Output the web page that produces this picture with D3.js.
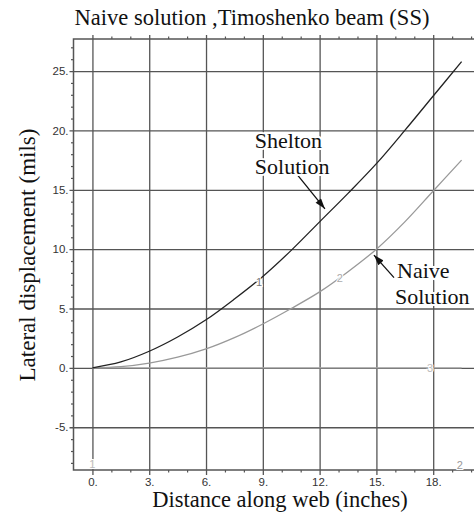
<!DOCTYPE html>
<html>
<head>
<meta charset="utf-8">
<script src="https://cdn.jsdelivr.net/npm/d3@7"></script>
<style>
  body { margin: 0; background: #fff; }
  text { font-family: "Liberation Serif", "Times New Roman", serif; }
  .tick text { font-family: "Liberation Sans", Arial, sans-serif; font-size: 11.5px; fill: #333; }
</style>
</head>
<body>
<svg id="chart" width="474" height="516"></svg>
<script>
// values
var distance = [0, 1.5, 3, 4.5, 6, 7.5, 9, 10.5, 12, 13.5, 15, 16.5, 18, 19.5];
var shelton  = [0, 0.5, 1.4, 2.6, 4.05, 5.8, 7.7, 9.9, 12.3, 14.7, 17.2, 20.0, 22.9, 25.8];
var naive    = [0, 0.1, 0.4, 0.9, 1.6, 2.55, 3.7, 5.0, 6.4, 8.1, 10.0, 12.3, 14.9, 17.5];
var zeroCurve = [0, 19.5];
var xTicks = [0, 3, 6, 9, 12, 15, 18];
var yTicks = [-5, 0, 5, 10, 15, 20, 25];

var svg = d3.select("#chart");
var pLeft = 73.5, pRight = 490, pTop = 39, pBottom = 470;

var x = d3.scaleLinear().domain([-1, 21]).range([pLeft, pRight]);
var y = d3.scaleLinear().domain([-8.6, 27.7]).range([pBottom, pTop]);

var gridColor = "#555";

// title
svg.append("text")
    .attr("x", 252).attr("y", 25)
    .attr("text-anchor", "middle")
    .style("font-size", "22.5px")
    .style("fill", "#111")
    .text("Naive solution ,Timoshenko beam (SS)");

// horizontal gridlines + y labels
var gy = svg.append("g")
    .attr("transform", "translate(" + (pLeft - 4) + ",0)")
    .call(d3.axisLeft(y).tickValues(yTicks).tickSize(-(pRight - pLeft + 4)).tickPadding(1)
        .tickFormat(function (d) { return d + "."; }));
gy.select(".domain").remove();
gy.selectAll(".tick line").attr("stroke", gridColor).attr("stroke-width", 1.3);

// vertical gridlines + x labels
var gx = svg.append("g")
    .attr("transform", "translate(0," + (pBottom + 5) + ")")
    .call(d3.axisBottom(x).tickValues(xTicks).tickSize(-(pBottom - pTop + 9)).tickPadding(3)
        .tickFormat(function (d) { return d + "."; }));
gx.select(".domain").remove();
gx.selectAll(".tick line").attr("stroke", gridColor).attr("stroke-width", 1.3);

// minor ticks
var minorX = d3.range(0, 21, 1).filter(function (d) { return d % 3 != 0; });
var minorY = d3.range(-8, 28, 1).filter(function (d) { return d % 5 != 0; });

var mb = svg.append("g").attr("transform", "translate(0," + pBottom + ")")
    .call(d3.axisBottom(x).tickValues(minorX).tickSize(2.5).tickFormat(""));
var mt = svg.append("g").attr("transform", "translate(0," + pTop + ")")
    .call(d3.axisTop(x).tickValues(minorX).tickSize(2.5).tickFormat(""));
var ml = svg.append("g").attr("transform", "translate(" + pLeft + ",0)")
    .call(d3.axisLeft(y).tickValues(minorY).tickSize(2.5).tickFormat(""));
[mb, mt, ml].forEach(function (g) {
    g.select(".domain").remove();
    g.selectAll(".tick line").attr("stroke", gridColor).attr("stroke-width", 1.2);
});

// frame
svg.append("path")
    .attr("d", "M" + pRight + "," + pTop + "H" + pLeft + "V" + pBottom + "H" + pRight)
    .attr("fill", "none").attr("stroke", gridColor).attr("stroke-width", 1.5);

// curves
var line = d3.line()
    .x(function (d) { return x(d[0]); })
    .y(function (d) { return y(d[1]); })
    .curve(d3.curveCatmullRom.alpha(0.5));

svg.append("path")
    .datum(zeroCurve.map(function (d) { return [d, 0]; }))
    .attr("d", line).attr("fill", "none").attr("stroke", "#aaa").attr("stroke-width", 1.4);

svg.append("path")
    .datum(distance.map(function (d, i) { return [d, naive[i]]; }))
    .attr("d", line).attr("fill", "none").attr("stroke", "#999").attr("stroke-width", 1.3);

svg.append("path")
    .datum(distance.map(function (d, i) { return [d, shelton[i]]; }))
    .attr("d", line).attr("fill", "none").attr("stroke", "#222").attr("stroke-width", 1.3);

// curve number labels
var curveLabels = [
    {t: "1", x: 8.8, y: 7.2, c: "#777"},
    {t: "2", x: 13.07, y: 7.55, c: "#aaa"},
    {t: "3", x: 17.83, y: 0, c: "#bbb"},
    {t: "1", x: 0, y: -8.1, c: "#bbb"},
    {t: "2", x: 19.4, y: -8.2, c: "#999"}
];
svg.selectAll(".clab").data(curveLabels).enter().append("text")
    .attr("class", "clab")
    .attr("x", function (d) { return x(d.x); })
    .attr("y", function (d) { return y(d.y); })
    .attr("dy", "0.35em")
    .attr("text-anchor", "middle")
    .style("font-family", "Liberation Sans, Arial, sans-serif")
    .style("font-size", "11px")
    .style("fill", function (d) { return d.c; })
    .style("paint-order", "stroke")
    .style("stroke", "#fff").style("stroke-width", 2)
    .text(function (d) { return d.t; });

// annotations
svg.append("defs").append("marker")
    .attr("id", "arr").attr("viewBox", "0 0 12 8")
    .attr("refX", 12).attr("refY", 4)
    .attr("markerWidth", 12).attr("markerHeight", 7)
    .attr("markerUnits", "userSpaceOnUse")
    .attr("orient", "auto")
    .append("path").attr("d", "M0,0L12,4L0,8Z").attr("fill", "#111");

var arrows = [
    {x1: 10.86, y1: 16.2, x2: 12.28, y2: 13.4},
    {x1: 15.93, y1: 7.6, x2: 14.87, y2: 9.5}
];
svg.selectAll(".arrow").data(arrows).enter().append("line")
    .attr("class", "arrow")
    .attr("x1", function (d) { return x(d.x1); })
    .attr("y1", function (d) { return y(d.y1); })
    .attr("x2", function (d) { return x(d.x2); })
    .attr("y2", function (d) { return y(d.y2); })
    .attr("stroke", "#111").attr("stroke-width", 1.3)
    .attr("marker-end", "url(#arr)");

var notes = [
    {t: "Shelton", x: 8.58, y: 18.5},
    {t: "Solution", x: 8.58, y: 16.3},
    {t: "Naive", x: 16.09, y: 7.55},
    {t: "Solution", x: 15.98, y: 5.36}
];
svg.selectAll(".note").data(notes).enter().append("text")
    .attr("class", "note")
    .attr("x", function (d) { return x(d.x); })
    .attr("y", function (d) { return y(d.y); })
    .style("font-size", "22px")
    .style("fill", "#111")
    .style("paint-order", "stroke")
    .style("stroke", "#fff").style("stroke-width", 4)
    .text(function (d) { return d.t; });

// axis titles
svg.append("text")
    .attr("x", 280).attr("y", 507)
    .attr("text-anchor", "middle")
    .style("font-size", "22.5px").style("fill", "#111")
    .text("Distance along web (inches)");

svg.append("text")
    .attr("transform", "translate(35,255) rotate(-90)")
    .attr("text-anchor", "middle")
    .style("font-size", "23px").style("fill", "#111")
    .text("Lateral displacement (mils)");
</script>
</body>
</html>
